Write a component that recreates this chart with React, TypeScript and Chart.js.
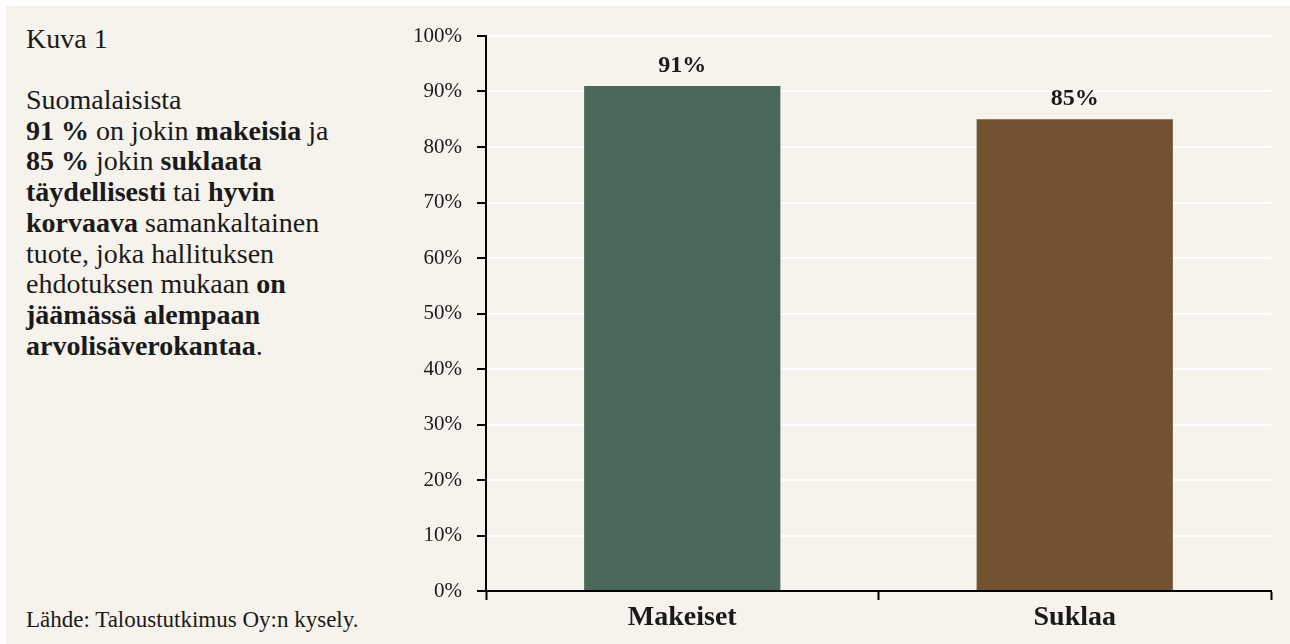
import React, { useEffect, useRef } from "react";
import { Chart, registerables } from "chart.js";

Chart.register(...registerables);

const categories = ["Makeiset", "Suklaa"];
const values = [91, 85];
const barColors = ["#4b6858", "#735232"];
const yMin = 0;
const yMax = 100;
const yStep = 10;

const FONT = "'Liberation Serif', 'Times New Roman', serif";
const BG = "#f6f2ec";
const INK = "#1a1a1a";

const valueLabels = {
  id: "valueLabels",
  afterDatasetsDraw(chart: any) {
    const ctx = chart.ctx;
    const meta = chart.getDatasetMeta(0);
    ctx.save();
    ctx.font = `bold 24px ${FONT}`;
    ctx.fillStyle = INK;
    ctx.textAlign = "center";
    ctx.textBaseline = "alphabetic";
    meta.data.forEach((bar: any, i: number) => {
      ctx.fillText(`${values[i]}%`, bar.x, bar.y - 14);
    });
    ctx.restore();
  },
};

export default function App() {
  const ref = useRef<HTMLCanvasElement | null>(null);

  useEffect(() => {
    document.body.style.margin = "0";
    const canvas = ref.current;
    if (!canvas) return;
    const chart = new Chart(canvas, {
      type: "bar",
      data: {
        labels: categories,
        datasets: [
          {
            data: values,
            backgroundColor: barColors,
            borderWidth: 0,
            categoryPercentage: 1,
            barPercentage: 0.5,
          },
        ],
      },
      options: {
        responsive: false,
        animation: false,
        events: [],
        layout: { padding: { top: 30, right: 19, bottom: 0, left: 0 } },
        plugins: {
          legend: { display: false },
          tooltip: { enabled: false },
        },
        scales: {
          x: {
            afterFit: (scale: any) => {
              scale.height = 53;
            },
            grid: {
              offset: true,
              drawOnChartArea: false,
              drawTicks: true,
              tickLength: 9,
              tickColor: "#000",
              tickWidth: 2,
            },
            border: { display: true, color: "#000", width: 2 },
            ticks: {
              color: INK,
              padding: 1,
              font: { family: FONT, size: 28, weight: "bold" },
            },
          },
          y: {
            min: yMin,
            max: yMax,
            afterFit: (scale: any) => {
              scale.width = 106;
            },
            grid: {
              color: "#ffffff",
              lineWidth: 2,
              drawTicks: true,
              tickLength: 9,
              tickColor: "#000",
              tickWidth: 2,
            },
            border: { display: true, color: "#000", width: 2 },
            ticks: {
              stepSize: yStep,
              color: INK,
              padding: 15,
              font: { family: FONT, size: 21 },
              callback: (v: any) => `${v}%`,
            },
          },
        },
      },
      plugins: [valueLabels],
    } as any);
    return () => chart.destroy();
  }, []);

  const textStyle: React.CSSProperties = {
    position: "absolute",
    left: 26,
    fontFamily: FONT,
    color: INK,
    whiteSpace: "nowrap",
  };

  return (
    <div style={{ position: "relative", width: 1290, height: 644, background: "#ffffff", overflow: "hidden" }}>
      <div style={{ position: "absolute", left: 6, top: 6, width: 1284, height: 638, background: BG }} />
      <div style={{ ...textStyle, top: 23, fontSize: 28, lineHeight: "31px" }}>Kuva 1</div>
      <div style={{ ...textStyle, top: 85, fontSize: 28, lineHeight: "30.7px" }}>
        Suomalaisista
        <br />
        <b>91&nbsp;%</b> on jokin <b>makeisia</b> ja
        <br />
        <b>85&nbsp;%</b> jokin <b>suklaata</b>
        <br />
        <b>täydellisesti</b> tai <b>hyvin</b>
        <br />
        <b>korvaava</b> samankaltainen
        <br />
        tuote, joka hallituksen
        <br />
        ehdotuksen mukaan <b>on</b>
        <br />
        <b>jäämässä alempaan</b>
        <br />
        <b>arvolisäverokantaa</b>.
      </div>
      <div style={{ ...textStyle, top: 607, fontSize: 23, lineHeight: "26px" }}>
        Lähde: Taloustutkimus Oy:n kysely.
      </div>
      <canvas
        ref={ref}
        width={910}
        height={638}
        style={{ position: "absolute", left: 380, top: 6, width: 910, height: 638 }}
      />
    </div>
  );
}
